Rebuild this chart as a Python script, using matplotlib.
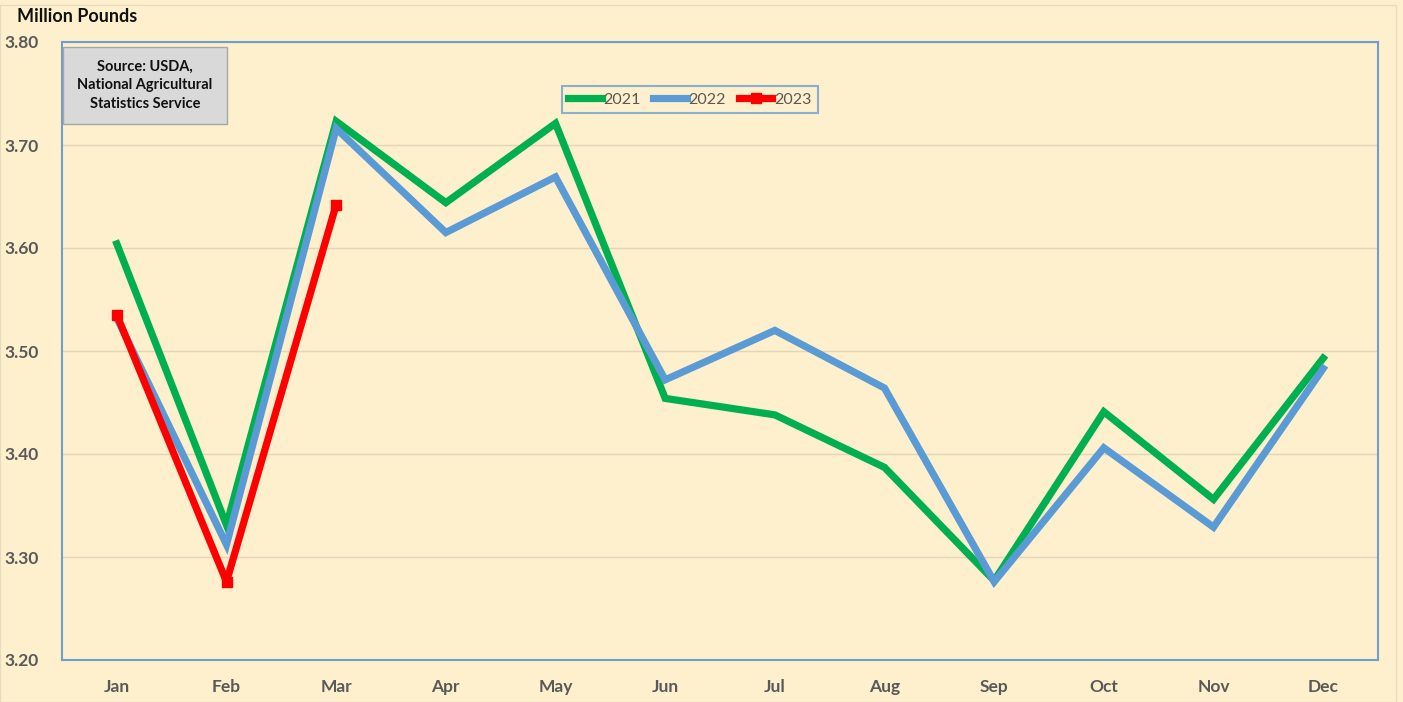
import matplotlib.pyplot as plt
import numpy as np
from matplotlib.patches import Rectangle

plt.rcParams['font.family'] = ['Lato', 'DejaVu Sans']

months = ['Jan', 'Feb', 'Mar', 'Apr', 'May', 'Jun', 'Jul', 'Aug', 'Sep', 'Oct', 'Nov', 'Dec']
y2021 = [3.604, 3.331, 3.723, 3.644, 3.721, 3.454, 3.438, 3.387, 3.277, 3.441, 3.356, 3.493]
y2022 = [3.532, 3.312, 3.716, 3.615, 3.669, 3.472, 3.520, 3.464, 3.276, 3.406, 3.329, 3.483]
y2023 = [3.535, 3.276, 3.642]

bg = '#FEF0CC'
fig = plt.figure(figsize=(14.03, 7.02), dpi=100, facecolor=bg)
ax = fig.add_axes([62/1403, 42/702, 1316/1403, 618/702])
ax.set_facecolor(bg)

x = np.arange(len(months))
ax.plot(x, y2021, color='#00B050', lw=5.2, label='2021', solid_joinstyle='miter', zorder=3)
ax.plot(x, y2022, color='#5B9BD5', lw=5.2, label='2022', solid_joinstyle='miter', zorder=4)
ax.plot(x[:len(y2023)], y2023, color='#FF0000', lw=5.2, marker='s', ms=7.5,
        label='2023', solid_joinstyle='round', zorder=5)

ax.set_xlim(-0.5, 11.5)
ax.set_ylim(3.20, 3.80)
ax.set_yticks(np.arange(3.20, 3.81, 0.10))
ax.yaxis.set_major_formatter(plt.FuncFormatter(lambda v, p: f'{v:.2f}'))
ax.set_xticks(x)
ax.set_xticklabels(months)
ax.grid(axis='y', color='#E3D6B8', lw=1)
ax.set_axisbelow(True)
ax.tick_params(length=0, labelsize=12.5, labelcolor='#595959', pad=14)
ax.tick_params(axis='y', pad=17)
for lab in ax.get_xticklabels() + ax.get_yticklabels():
    lab.set_fontweight('bold')
for s in ax.spines.values():
    s.set_color('#6E9FCF')
    s.set_linewidth(1.5)

fig.text(17/1403, 1 - 17/702, 'Million Pounds', fontsize=13, fontweight='bold',
         color='#111111', va='center', ha='left')

# source note box
fig.patches.append(Rectangle((63/1403, 1 - 124/702), 164/1403, 77/702,
                             transform=fig.transFigure, fc='#D9D9D9', ec='#A6A6A6',
                             lw=1, zorder=6))
fig.text(145/1403, 1 - 85.5/702, 'Source: USDA,\nNational Agricultural\nStatistics Service',
         ha='center', va='center', fontsize=10.5, fontweight='bold', color='#111111',
         linespacing=1.45, zorder=7)

leg = ax.legend(loc='upper center', bbox_to_anchor=(0.477, 0.941), ncol=3, frameon=True,
                fancybox=False, fontsize=11.5, handlelength=2.1, handletextpad=0.1,
                columnspacing=0.8, borderpad=0.4, labelcolor='#595959')
leg.get_frame().set_edgecolor('#6E9FCF')
leg.get_frame().set_linewidth(1.5)
leg.get_frame().set_facecolor(bg)

fig.patches.append(Rectangle((0, 0), 1396/1403, 1 - 5/702, transform=fig.transFigure,
                             fill=False, ec='#E8DCC0', lw=1))

fig.savefig('out.png', dpi=100, facecolor=bg)
